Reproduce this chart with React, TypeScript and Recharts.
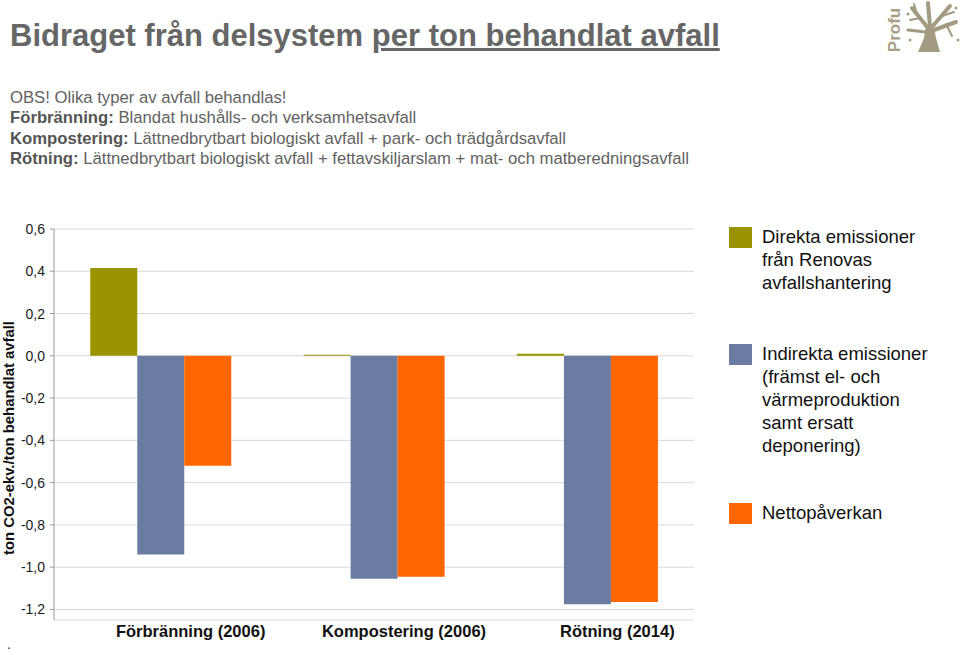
import React from 'react';
import { BarChart, Bar, XAxis, YAxis, CartesianGrid } from 'recharts';

// values (ton CO2-ekv. per ton behandlat avfall)
const categories = ['Förbränning (2006)', 'Kompostering (2006)', 'Rötning (2014)'];
const direkta = [0.415, 0.005, 0.01];
const indirekta = [-0.94, -1.055, -1.175];
const netto = [-0.52, -1.045, -1.165];
const yTicks = [-1.2, -1.0, -0.8, -0.6, -0.4, -0.2, 0, 0.2, 0.4, 0.6];

const seriesNames = [
  ['Direkta emissioner', 'från Renovas', 'avfallshantering'],
  ['Indirekta emissioner', '(främst el- och', 'värmeproduktion', 'samt ersatt', 'deponering)'],
  ['Nettopåverkan'],
];
const seriesColors = ['#999400', '#6a7ca1', '#ff6600'];

const subtitleRows = [
  { bold: '', text: 'OBS! Olika typer av avfall behandlas!' },
  { bold: 'Förbränning:', text: ' Blandat hushålls- och verksamhetsavfall' },
  { bold: 'Kompostering:', text: ' Lättnedbrytbart biologiskt avfall + park- och trädgårdsavfall' },
  { bold: 'Rötning:', text: ' Lättnedbrytbart biologiskt avfall + fettavskiljarslam + mat- och matberedningsavfall' },
];

const data = categories.map((name, i) => ({
  name,
  direkta: direkta[i],
  indirekta: indirekta[i],
  netto: netto[i],
}));

const fmt = (v: number) => v.toFixed(1).replace('.', ',');

const CategoryTick = ({ x, y, payload }: any) => (
  <text
    x={x + 30}
    y={y + 15}
    textAnchor="middle"
    fontSize={16.5}
    fontWeight="bold"
    fill="#111"
    fontFamily="'Liberation Sans', Arial, sans-serif"
  >
    {payload.value}
  </text>
);

const legendTops = [227, 344, 503];

const Logo = () => (
  <svg width={90} height={60} style={{ position: 'absolute', left: 870, top: 0 }}>
    <text
      x={0}
      y={0}
      transform="translate(30,30) rotate(-90)"
      textAnchor="middle"
      fontSize={17}
      fontWeight="bold"
      fill="#a89f88"
      fontFamily="'Liberation Sans', Arial, sans-serif"
    >
      Profu
    </text>
    <g fill="#a39a82" stroke="#a39a82" strokeLinecap="round">
      <path d="M48 52 L70 52 L66 38 L64 26 L56 26 L54 38 Z" stroke="none" />
      <path d="M58 28 L42 8" strokeWidth={4} fill="none" />
      <path d="M60 27 L58 3" strokeWidth={4} fill="none" />
      <path d="M62 27 L80 6" strokeWidth={4} fill="none" />
      <path d="M64 30 L86 22" strokeWidth={4} fill="none" />
      <path d="M56 32 L38 30" strokeWidth={3} fill="none" />
      <path d="M50 18 L40 20" strokeWidth={2} fill="none" />
      <path d="M72 16 L84 12" strokeWidth={2} fill="none" />
      <path d="M47 14 L44 4" strokeWidth={2} fill="none" />
      <path d="M76 24 L82 36" strokeWidth={2} fill="none" />
      <circle cx={38} cy={14} r={1.5} stroke="none" />
      <circle cx={86} cy={8} r={1.5} stroke="none" />
      <circle cx={88} cy={40} r={1.5} stroke="none" />
      <circle cx={40} cy={40} r={1.5} stroke="none" />
    </g>
  </svg>
);

export default function App() {
  const font = "'Liberation Sans', Arial, Helvetica, sans-serif";
  return (
    <div
      style={{
        position: 'absolute',
        left: 0,
        top: 0,
        width: 960,
        height: 655,
        background: '#fff',
        fontFamily: font,
        overflow: 'hidden',
      }}
    >
      <div
        style={{
          position: 'absolute',
          left: 10,
          top: 21,
          fontSize: 31,
          lineHeight: '30px',
          fontWeight: 'bold',
          color: '#666',
          whiteSpace: 'nowrap',
        }}
      >
        Bidraget från delsystem <span style={{ textDecoration: 'underline' }}>per ton behandlat avfall</span>
      </div>
      <Logo />

      <div style={{ position: 'absolute', left: 10, top: 88, fontSize: 16.7, lineHeight: '20.3px', color: '#626262', whiteSpace: 'nowrap' }}>
        {subtitleRows.map((r, i) => (
          <div key={i}>
            {r.bold && <b style={{ color: '#555' }}>{r.bold}</b>}
            {r.text}
          </div>
        ))}
      </div>

      <BarChart
        width={960}
        height={655}
        data={data}
        margin={{ top: 229, right: 266, bottom: 0, left: 0 }}
        barCategoryGap="17%"
        barGap={0}
        style={{ position: 'absolute', left: 0, top: 0 }}
      >
        <CartesianGrid stroke="#d9d9d9" vertical={false} yAxisId="l" />
        <XAxis
          dataKey="name"
          axisLine={false}
          tickLine={false}
          tickSize={0}
          height={35}
          tick={<CategoryTick />}
          interval={0}
        />
        <YAxis
          yAxisId="l"
          domain={[-1.25, 0.6]}
          ticks={yTicks}
          width={54}
          tickFormatter={fmt}
          stroke="#999"
          tickSize={4}
          tickMargin={5}
          allowDataOverflow
          tick={{ fill: '#1a1a1a', fontSize: 14, fontFamily: font }}
        />
        <YAxis yAxisId="r" orientation="right" domain={[-1.25, 0.6]} width={0} tick={false} stroke="#999" />
        <Bar yAxisId="l" dataKey="direkta" fill={seriesColors[0]} isAnimationActive={false} />
        <Bar yAxisId="l" dataKey="indirekta" fill={seriesColors[1]} isAnimationActive={false} />
        <Bar yAxisId="l" dataKey="netto" fill={seriesColors[2]} isAnimationActive={false} />
      </BarChart>

      <svg width={24} height={260} style={{ position: 'absolute', left: 0, top: 310 }}>
        <text
          transform="translate(14,128) rotate(-90)"
          textAnchor="middle"
          fontSize={14}
          fontWeight="bold"
          fill="#111"
          fontFamily={font}
          textLength={234}
          lengthAdjust="spacingAndGlyphs"
        >
          ton CO2-ekv./ton behandlat avfall
        </text>
      </svg>

      {seriesNames.map((lines, i) => (
        <div key={i} style={{ position: 'absolute', left: 729, top: legendTops[i], display: 'flex' }}>
          <div style={{ width: 23, height: 21, background: seriesColors[i], flex: 'none' }} />
          <div style={{ marginLeft: 10, marginTop: -2, fontSize: 18.5, lineHeight: '23px', color: '#111' }}>
            {lines.map((l, j) => (
              <div key={j}>{l}</div>
            ))}
          </div>
        </div>
      ))}

      <div style={{ position: 'absolute', left: 7, top: 636, fontSize: 14, color: '#333' }}>.</div>
    </div>
  );
}
